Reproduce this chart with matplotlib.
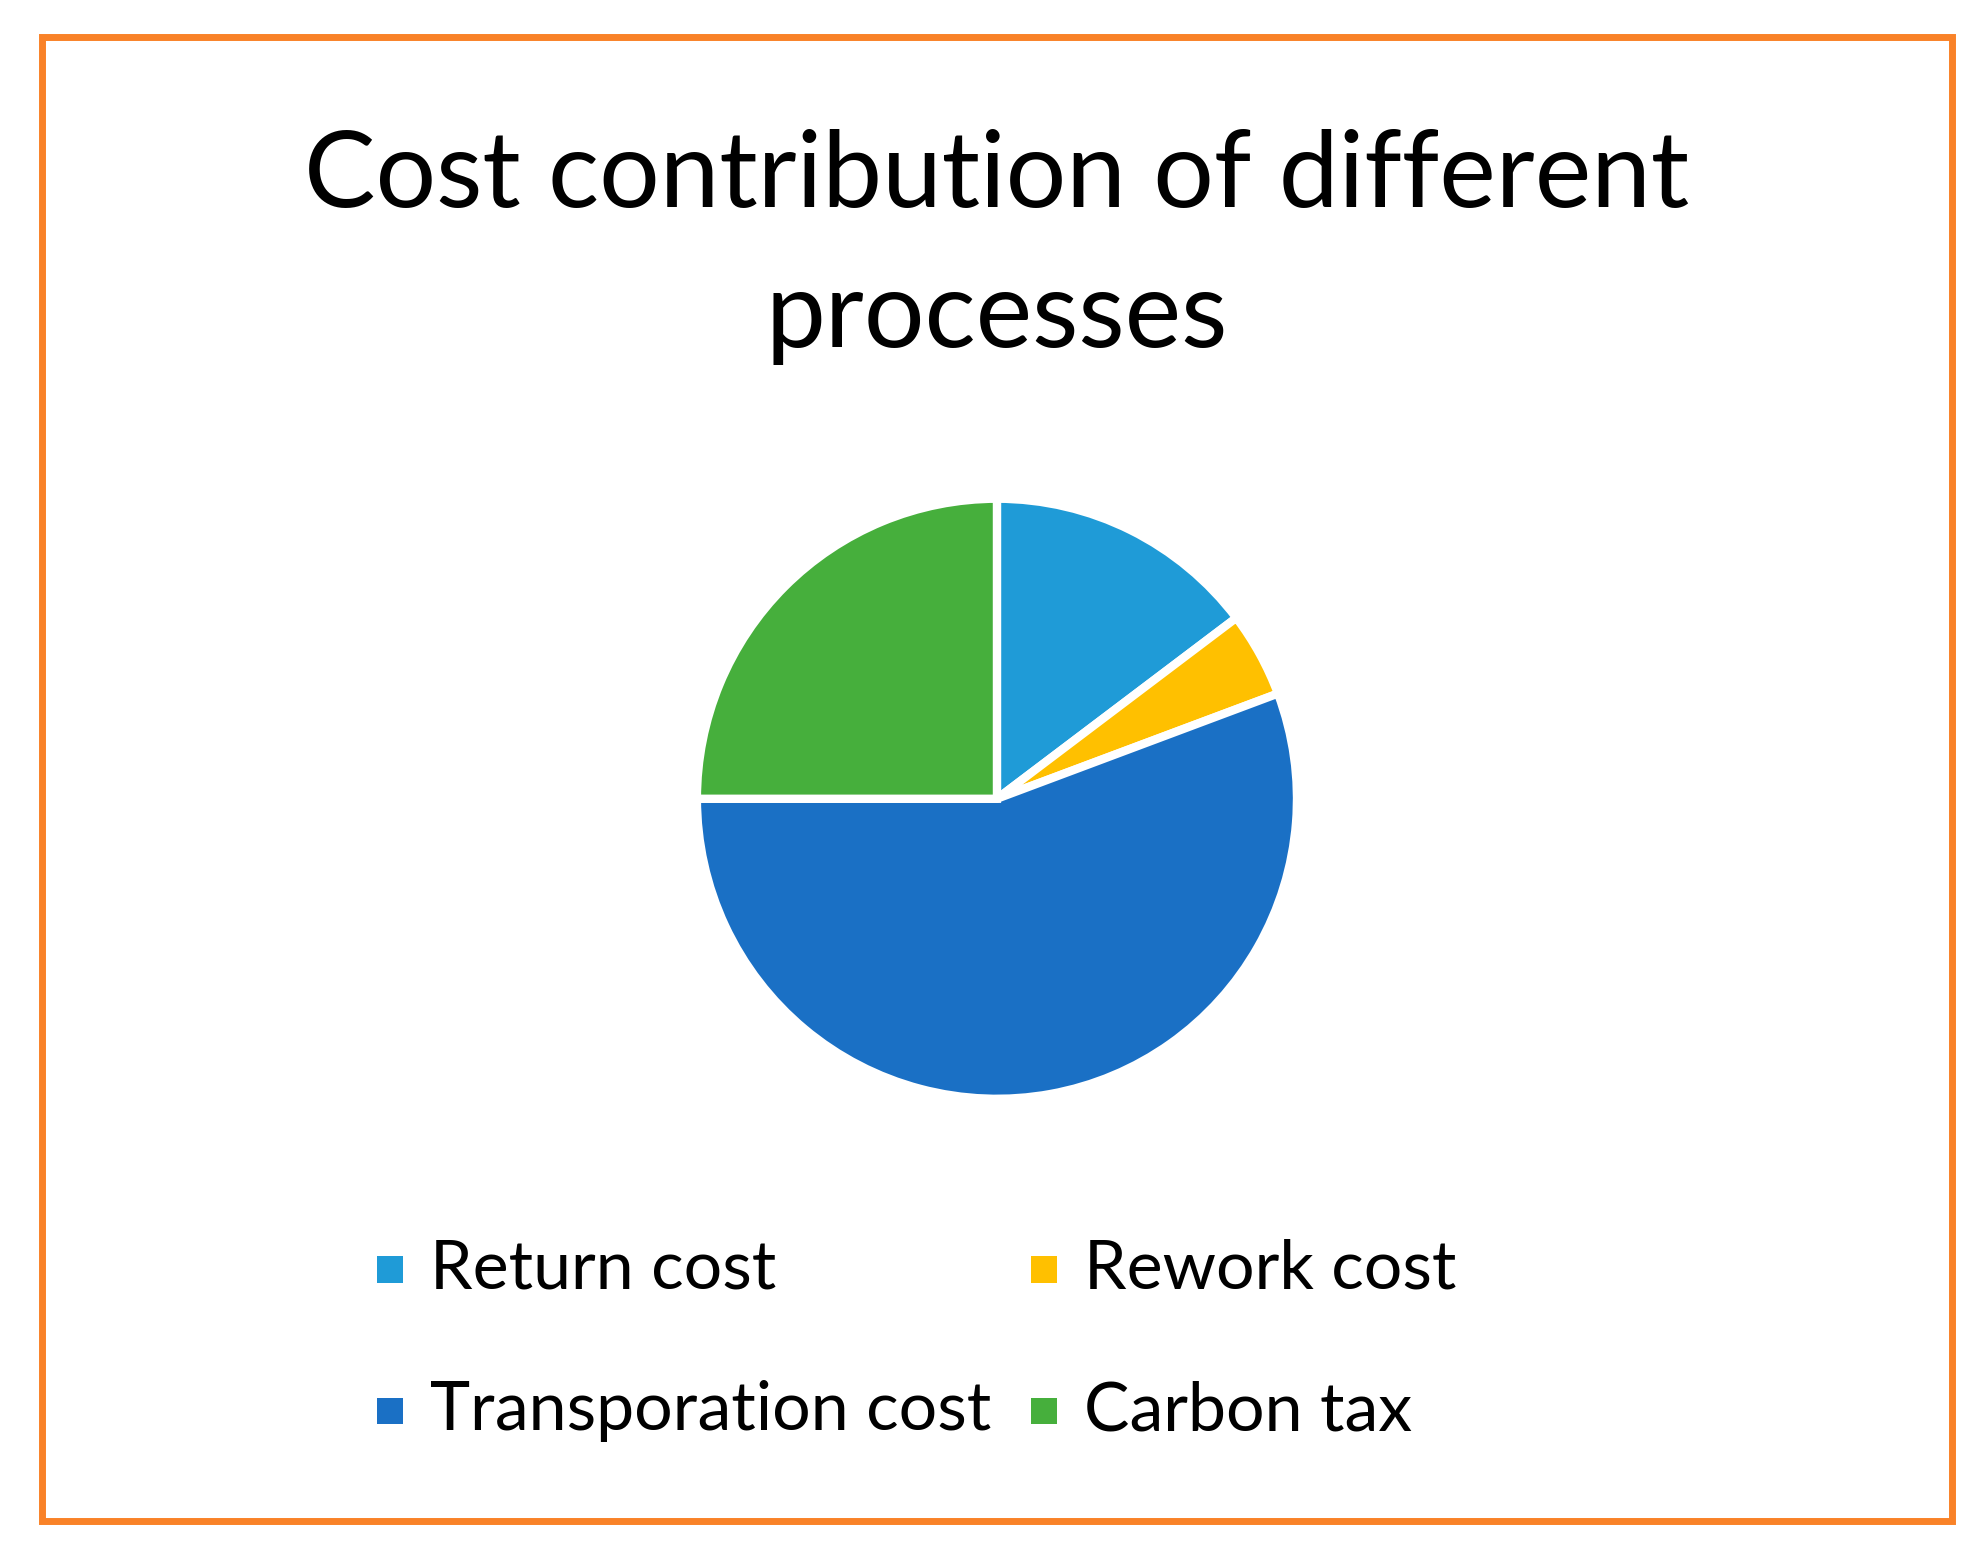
import matplotlib
matplotlib.use('Agg')
import matplotlib.pyplot as plt
from matplotlib.patches import Rectangle

labels = ['Return cost', 'Rework cost', 'Transporation cost', 'Carbon tax']
shares = [14.7, 4.6, 55.7, 25.0]
colors = ['#1F9BD7', '#FFC000', '#1A70C5', '#46AF3C']

plt.rcParams['font.family'] = ['Lato', 'DejaVu Sans']

fig = plt.figure(figsize=(19.82, 15.54), dpi=100)

# orange frame
fig.add_artist(Rectangle((0.021, 0.021), 0.964, 0.955, transform=fig.transFigure,
                         fill=False, edgecolor='#F98228', linewidth=5))

fig.text(0.503, 0.886, 'Cost contribution of different', ha='center', va='center', fontsize=77)
fig.text(0.503, 0.796, 'processes', ha='center', va='center', fontsize=77)

ax = fig.add_axes([0.35, 0.291, 0.306, 0.39])
ax.pie(shares, colors=colors, startangle=90, counterclock=False,
       wedgeprops=dict(edgecolor='white', linewidth=6))
ax.set_aspect('equal')
ax.set_xlim(-1.01, 1.01)
ax.set_ylim(-1.01, 1.01)

# legend
pos = [(0.19, 0.183), (0.52, 0.183), (0.19, 0.092), (0.52, 0.092)]
for (x, y), lab, c in zip(pos, labels, colors):
    fig.add_artist(Rectangle((x, y - 0.0085), 0.0135, 0.017, transform=fig.transFigure,
                             facecolor=c, edgecolor='none'))
    fig.text(x + 0.027, y, lab, ha='left', va='center', fontsize=49)

fig.savefig('out.png', dpi=100, facecolor='white')
